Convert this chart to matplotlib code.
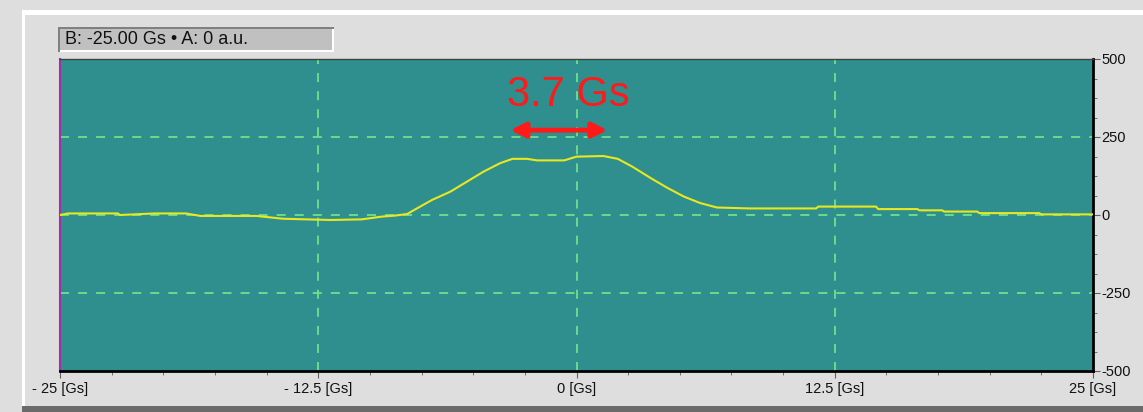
import matplotlib
matplotlib.use("Agg")
import matplotlib.pyplot as plt
from matplotlib.patches import Rectangle
from matplotlib.ticker import MultipleLocator

# field (Gs) and amplitude (a.u.)
field = [-25, -24.6, -22.2, -22.1, -20.4, -18.9, -18.2, -15.5, -14.2, -11.9, -10.4, -9.4, -8.8,
         -8.2, -7.7, -7.0, -6.1, -5.3, -4.5, -3.7, -3.1, -2.4, -1.9, -0.6, 0.0, 1.3, 2.0, 2.7,
         3.6, 4.4, 5.2, 6.0, 6.8, 8.4, 11.6, 11.7, 14.5, 14.6, 16.5, 16.6, 17.7, 17.8, 19.4,
         19.5, 22.4, 22.5, 25]
amp = [0, 5, 5, 0, 5, 5, -3, -3, -12, -16, -14, -5, -2,
       3, 22, 48, 75, 107, 139, 166, 180, 180, 175, 175, 187, 189, 180, 155,
       118, 87, 59, 38, 24, 21, 21, 27, 27, 19, 19, 15, 15, 11, 11,
       6, 6, 2, 2]

xticks = [-25, -12.5, 0, 12.5, 25]
xlabels = ["- 25 [Gs]", "- 12.5 [Gs]", "0 [Gs]", "12.5 [Gs]", "25 [Gs]"]
yticks = [-500, -250, 0, 250, 500]
grid_x = [-12.5, 0, 12.5]
grid_y = [-250, 0, 250]
width_label = "3.7 Gs"
arrow_span = (-3.2, 1.5)
header = "B: -25.00 Gs \u2022 A: 0 a.u."

plt.rcParams['font.family'] = ['Liberation Sans', 'DejaVu Sans']

fig = plt.figure(figsize=(11.43, 4.12), dpi=100)
fig.patch.set_facecolor('#dedede')

# window frame
fig.patches.append(Rectangle((22 / 1143, 0), 3 / 1143, 1 - 10 / 412, transform=fig.transFigure,
                             facecolor='white', edgecolor='none'))
fig.patches.append(Rectangle((22 / 1143, 1 - 15 / 412), 1, 5 / 412, transform=fig.transFigure,
                             facecolor='white', edgecolor='none'))
fig.patches.append(Rectangle((22 / 1143, 0), 1, 6 / 412, transform=fig.transFigure,
                             facecolor='#6a6a6a', edgecolor='none'))

ax = fig.add_axes([60 / 1143, 41 / 412, 1033 / 1143, 312 / 412])
ax.set_facecolor('#2e8f8e')

for gx in grid_x:
    ax.axvline(gx, color='#6fe08a', ls=(0, (5, 5)), lw=1.3, zorder=1)
for gy in grid_y:
    ax.axhline(gy, color='#6fe08a', ls=(0, (5, 5)), lw=1.3, zorder=1)

ax.plot(field, amp, color='#e8e820', lw=1.5, zorder=3)

ax.annotate('', xy=(arrow_span[0], 272), xytext=(arrow_span[1], 272),
            arrowprops=dict(arrowstyle='<|-|>', color='#ff1a1a', lw=3.5,
                            mutation_scale=22, shrinkA=0, shrinkB=0), zorder=4)
ax.text(-0.4, 385, width_label, color='#ff1a1a', fontsize=30, ha='center', va='center', zorder=4)

ax.set_xlim(-25, 25)
ax.set_ylim(-500, 500)
ax.set_xticks(xticks)
ax.set_xticklabels(xlabels)
ax.xaxis.set_minor_locator(MultipleLocator(2.5))
ax.set_yticks(yticks)
ax.set_yticklabels([str(v) for v in yticks])
ax.yaxis.set_minor_locator(MultipleLocator(62.5))
ax.yaxis.tick_right()
ax.tick_params(axis='both', which='both', direction='out', color='#606060', labelsize=10.5,
               labelcolor='#111111')
ax.tick_params(axis='x', which='major', length=5, pad=3)
ax.tick_params(axis='x', which='minor', length=3)
ax.tick_params(axis='y', which='major', length=5, pad=1)
ax.tick_params(axis='y', which='minor', length=3)

ax.spines['top'].set_color('#404040')
ax.spines['top'].set_linewidth(1)
ax.spines['bottom'].set_color('black')
ax.spines['bottom'].set_linewidth(2)
ax.spines['right'].set_color('black')
ax.spines['right'].set_linewidth(2)
ax.spines['left'].set_color('#a030a8')
ax.spines['left'].set_linewidth(1.5)

# readout box above the plot
fig.patches.append(Rectangle((58 / 1143, 1 - 52 / 412), 276 / 1143, 25 / 412, transform=fig.transFigure,
                             facecolor='#c0c0c0', edgecolor='none'))
fig.patches.append(Rectangle((58 / 1143, 1 - 52 / 412), 276 / 1143, 2 / 412, transform=fig.transFigure,
                             facecolor='white', edgecolor='none'))
fig.patches.append(Rectangle((332 / 1143, 1 - 52 / 412), 2 / 1143, 25 / 412, transform=fig.transFigure,
                             facecolor='white', edgecolor='none'))
fig.patches.append(Rectangle((58 / 1143, 1 - 29 / 412), 276 / 1143, 2 / 412, transform=fig.transFigure,
                             facecolor='#808080', edgecolor='none'))
fig.patches.append(Rectangle((58 / 1143, 1 - 52 / 412), 2 / 1143, 25 / 412, transform=fig.transFigure,
                             facecolor='#808080', edgecolor='none'))
fig.text(65 / 1143, 1 - 40 / 412, header, fontsize=13, color='#111111', va='center', ha='left')

fig.savefig('out.png', dpi=100, facecolor=fig.get_facecolor())
